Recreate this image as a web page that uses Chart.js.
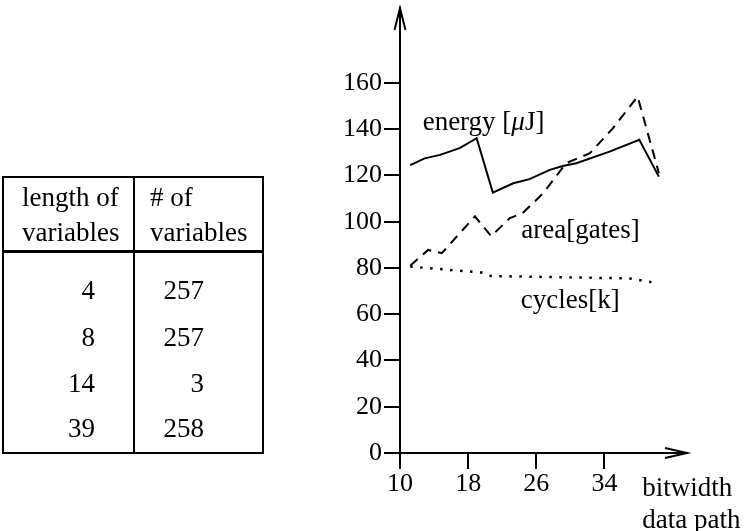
<!DOCTYPE html>
<html><head><meta charset="utf-8">
<script src="https://cdn.jsdelivr.net/npm/chart.js@4/dist/chart.umd.min.js"></script>
<style>
html,body{margin:0;padding:0;background:#fff;}
#wrap{position:relative;width:744px;height:531px;overflow:hidden;font-family:"Liberation Serif","Times New Roman",serif;background:#fff;}
#c{position:absolute;left:0;top:0;}
.t{position:absolute;font-size:27px;line-height:27px;white-space:nowrap;color:#000;}
.ln{position:absolute;background:#000;}
</style></head>
<body><div id="wrap"><canvas id="c" width="744" height="531"></canvas><div id="tbl"></div></div>
<script>
// ---- table data ----
const headerCol1 = ["length of", "variables"];
const headerCol2 = ["# of", "variables"];
const varLengths = [4, 8, 14, 39];
const varCounts = [257, 257, 3, 258];

// ---- chart data ----
const xTicks = [10, 18, 26, 34];
const yTicks = [0, 20, 40, 60, 80, 100, 120, 140, 160];
const energyX = [11.2, 12.9, 14.7, 17.0, 19.0, 20.9, 23.3, 25.2, 27.6, 29.1, 30.7, 34.6, 38.1, 40.4];
const energyY = [124.5, 127.4, 128.9, 131.8, 136.1, 112.6, 116.6, 118.4, 122.4, 124.1, 125.3, 130.3, 135.4, 119.5];
const areaX = [11.2, 13.3, 14.9, 18.8, 20.7, 22.9, 24.4, 26.8, 29.5, 32.3, 35.0, 37.9, 40.4];
const areaY = [81.0, 87.8, 86.4, 102.3, 93.7, 101.6, 103.7, 112.3, 125.3, 129.6, 140.4, 154.1, 121.0];
const cyclesX = [11.2, 19.6, 20.7, 36.9, 40.0];
const cyclesY = [80.6, 78.0, 76.5, 75.5, 73.6];
const seriesLabels = ["energy [", "area[gates]", "cycles[k]"];
const xAxisLabel = ["bitwidth", "data path"];

// ---- build table ----
const tbl = document.getElementById('tbl');
function line(l, t, w, h) { const d = document.createElement('div'); d.className = 'ln'; Object.assign(d.style, {left: l + 'px', top: t + 'px', width: w + 'px', height: h + 'px'}); tbl.appendChild(d); }
function txt(s, x, base, align) {
  const d = document.createElement('div'); d.className = 't'; d.textContent = s;
  d.style.top = (base - 22.6) + 'px';
  if (align === 'right') { d.style.right = (744 - x) + 'px'; } else { d.style.left = x + 'px'; }
  tbl.appendChild(d);
}
line(2, 176, 262, 2); line(2, 452, 262, 2); line(2, 176, 2, 278); line(262, 176, 2, 278);
line(133, 176, 2, 278); line(2, 250, 262, 3);
txt(headerCol1[0], 22, 207); txt(headerCol1[1], 22, 242);
txt(headerCol2[0], 150, 207); txt(headerCol2[1], 150, 242);
const rowBase = [300, 347, 393, 438];
varLengths.forEach((v, i) => txt(String(v), 95, rowBase[i], 'right'));
varCounts.forEach((v, i) => txt(String(v), 204, rowBase[i], 'right'));

// ---- chart ----
const FONT = '"Liberation Serif", "Times New Roman", serif';
const toPts = (xs, ys) => xs.map((x, i) => ({x: x, y: ys[i]}));

const decor = {
  id: 'decor',
  afterDraw(chart) {
    const ctx = chart.ctx, a = chart.chartArea, xs = chart.scales.x, ys = chart.scales.y;
    ctx.save();
    ctx.strokeStyle = '#000'; ctx.lineWidth = 2; ctx.lineCap = 'butt';
    // y arrow
    ctx.beginPath();
    ctx.moveTo(a.left - 5.5, a.top + 22); ctx.lineTo(a.left, a.top); ctx.lineTo(a.left + 5.5, a.top + 22);
    ctx.stroke();
    // x arrow
    ctx.beginPath();
    ctx.moveTo(a.right - 22, a.bottom - 5); ctx.lineTo(a.right, a.bottom); ctx.lineTo(a.right - 22, a.bottom + 5);
    ctx.stroke();
    ctx.fillStyle = '#000'; ctx.textBaseline = 'alphabetic'; ctx.textAlign = 'left';
    const f = '27px ' + FONT;
    ctx.font = f;
    // energy label
    let x = xs.getPixelForValue(12.66), y = ys.getPixelForValue(139.5);
    ctx.fillText(seriesLabels[0], x, y);
    x += ctx.measureText(seriesLabels[0]).width;
    ctx.font = 'italic 27px ' + FONT;
    ctx.fillText('\u03BC', x, y);
    x += ctx.measureText('\u03BC').width;
    ctx.font = f;
    ctx.fillText('J]', x, y);
    ctx.fillText(seriesLabels[1], xs.getPixelForValue(24.25), ys.getPixelForValue(92.8));
    ctx.fillText(seriesLabels[2], xs.getPixelForValue(24.17), ys.getPixelForValue(62.9));
    // axis title
    const tx = xs.getPixelForValue(38.45);
    ctx.fillText(xAxisLabel[0], tx, a.bottom + 43);
    ctx.fillText(xAxisLabel[1], tx, a.bottom + 75);
    ctx.restore();
  }
};

new Chart(document.getElementById('c'), {
  type: 'line',
  data: {
    datasets: [
      {label: 'energy', data: toPts(energyX, energyY), borderColor: '#000', borderWidth: 2, pointRadius: 0, tension: 0, fill: false},
      {label: 'area', data: toPts(areaX, areaY), borderColor: '#000', borderWidth: 2, borderDash: [10, 7], pointRadius: 0, tension: 0, fill: false},
      {label: 'cycles', data: toPts(cyclesX, cyclesY), borderColor: '#000', borderWidth: 2.5, borderDash: [2.5, 7.5], pointRadius: 0, tension: 0, fill: false}
    ]
  },
  options: {
    responsive: false, animation: false, devicePixelRatio: 1,
    layout: {padding: {left: 300, top: 8, right: 57, bottom: 0}},
    plugins: {legend: {display: false}, tooltip: {enabled: false}},
    scales: {
      x: {
        type: 'linear', position: 'bottom', min: 10, max: 43.7,
        afterBuildTicks: s => { s.ticks = xTicks.map(v => ({value: v})); },
        afterFit: s => { s.height = 78; s.paddingLeft = 0; s.paddingRight = 0; s.paddingTop = 0; s.paddingBottom = 0; },
        grid: {display: true, drawOnChartArea: false, drawTicks: true, tickLength: 16, color: '#000', lineWidth: 2},
        border: {display: true, color: '#000', width: 2},
        ticks: {color: '#000', font: {family: FONT, size: 26}, padding: 0, maxRotation: 0, autoSkip: false}
      },
      y: {
        type: 'linear', min: 0, max: 192.4,
        afterBuildTicks: s => { s.ticks = yTicks.map(v => ({value: v})); },
        afterFit: s => { s.width = 100; s.paddingLeft = 0; s.paddingRight = 0; s.paddingTop = 0; s.paddingBottom = 0; },
        grid: {display: true, drawOnChartArea: false, drawTicks: true, tickLength: 16, color: '#000', lineWidth: 2},
        border: {display: true, color: '#000', width: 2},
        ticks: {color: '#000', font: {family: FONT, size: 26}, padding: 2, autoSkip: false}
      }
    }
  },
  plugins: [decor]
});
</script>
</body></html>
